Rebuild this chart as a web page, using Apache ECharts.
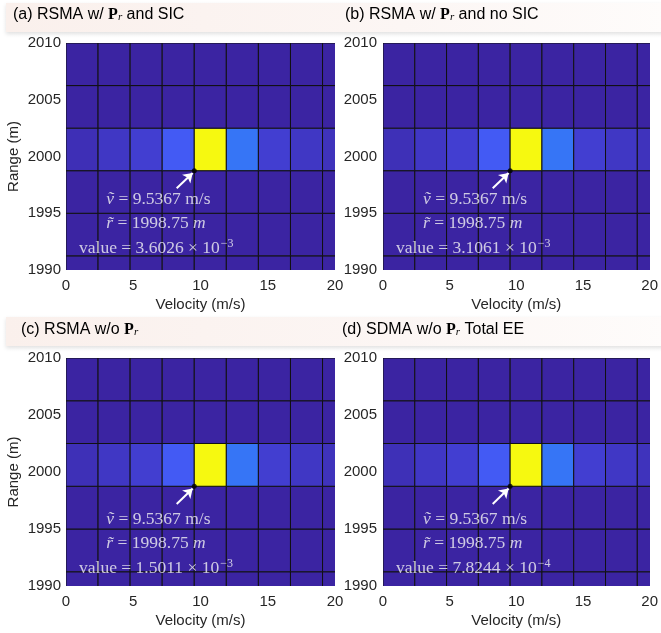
<!DOCTYPE html>
<html>
<head>
<meta charset="utf-8">
<script src="https://cdn.jsdelivr.net/npm/echarts@6/dist/echarts.min.js"></script>
<style>html,body{margin:0;padding:0;background:#fff}#c{width:661px;height:633px}</style>
</head>
<body>
<div id="c"></div>
<script>
// ---- data ----
const velocityEdges = [0, 2.3842, 4.7684, 7.1526, 9.5367, 11.9209, 14.3051, 16.6893, 19.0735, 21.4577];
const rangeEdges = [1987.5, 1991.25, 1995, 1998.75, 2002.5, 2006.25, 2010];
const peakRowIndex = 3; // row 1998.75 - 2002.5
const backgroundValue = 0;
const rowValuesA = [0.090e-3, 0.150e-3, 0.205e-3, 0.414e-3, 3.6026e-3, 0.598e-3, 0.205e-3, 0.150e-3, 0.115e-3];
const rowValuesB = [0.078e-3, 0.129e-3, 0.177e-3, 0.357e-3, 3.1061e-3, 0.516e-3, 0.177e-3, 0.129e-3, 0.099e-3];
const rowValuesC = [0.038e-3, 0.062e-3, 0.085e-3, 0.173e-3, 1.5011e-3, 0.249e-3, 0.085e-3, 0.062e-3, 0.048e-3];
const rowValuesD = [0.020e-3, 0.033e-3, 0.045e-3, 0.090e-3, 0.78244e-3, 0.130e-3, 0.045e-3, 0.033e-3, 0.025e-3];
const peakValues = [3.6026e-3, 3.1061e-3, 1.5011e-3, 7.8244e-4];
const valueMantissas = ['3.6026', '3.1061', '1.5011', '7.8244'];
const valueExponents = ['\u22123', '\u22123', '\u22123', '\u22124'];
const peakVelocity = 9.5367;
const peakRange = 1998.75;
const titleLetters = ['(a) RSMA w/ ', '(b) RSMA w/ ', '(c) RSMA w/o ', '(d) SDMA w/o '];
const titleTails = [' and SIC', ' and no SIC', '', ' Total EE'];
const xMin = 0, xMax = 20, xInterval = 5;
const yMin = 1990, yMax = 2010, yInterval = 5;
const xAxisName = 'Velocity (m/s)';
const yAxisName = 'Range (m)';
const rowValues = [rowValuesA, rowValuesB, rowValuesC, rowValuesD];

// ---- layout ----
const grids = [
  {left: 66, top: 43, width: 269, height: 227},
  {left: 383, top: 43, width: 269, height: 227},
  {left: 66, top: 358, width: 269, height: 228},
  {left: 383, top: 358, width: 269, height: 228}
];
const parula = ['#3b24a2', '#4752f4', '#2d87f7', '#11b1d6', '#05c3af', '#37c897', '#81cc59', '#d1bb33', '#fbbc40', '#f9e527', '#f6f910'];
const sans = '"Liberation Sans", Arial, Helvetica, sans-serif';
const serif = '"Liberation Serif", "DejaVu Serif", serif';
const textY = [[1996.2, 1994.1, 1991.9], [1996.2, 1994.1, 1991.9], [1995.85, 1993.75, 1991.55], [1995.85, 1993.75, 1991.55]];
const textX = [3.0, 3.0, 0.97];
const arrowTail = [8.23, 1997.2];
const arrowHead = [9.42, 1998.55];

const chart = echarts.init(document.getElementById('c'), null, {renderer: 'canvas'});

const xAxes = [], yAxes = [], series = [], visualMaps = [], graphics = [];

grids.forEach((g, i) => {
  xAxes.push({
    type: 'value', gridIndex: i, min: xMin, max: xMax, interval: xInterval,
    axisLine: {show: false}, axisTick: {show: false}, splitLine: {show: false},
    axisLabel: {fontSize: 15, color: '#262626', fontFamily: sans, margin: 8, formatter: v => String(v)},
    name: xAxisName, nameLocation: 'middle', nameGap: 27,
    nameTextStyle: {fontSize: 15, color: '#262626', fontFamily: sans}
  });
  yAxes.push({
    type: 'value', gridIndex: i, min: yMin, max: yMax, interval: yInterval,
    axisLine: {show: false}, axisTick: {show: false}, splitLine: {show: false},
    axisLabel: {fontSize: 15, color: '#262626', fontFamily: sans, margin: i % 2 === 0 ? 5 : 6, formatter: v => String(v)},
    name: i % 2 === 0 ? yAxisName : '', nameLocation: 'middle', nameGap: 45,
    nameTextStyle: {fontSize: 15, color: '#262626', fontFamily: sans}
  });

  const data = [];
  for (let r = 0; r < rangeEdges.length - 1; r++) {
    for (let c = 0; c < velocityEdges.length - 1; c++) {
      const v = r === peakRowIndex ? rowValues[i][c] : backgroundValue;
      data.push([velocityEdges[c], velocityEdges[c + 1], rangeEdges[r], rangeEdges[r + 1], v]);
    }
  }
  const baseIndex = series.length;
  series.push({
    type: 'custom', xAxisIndex: i, yAxisIndex: i, clip: true,
    encode: {x: [0, 1], y: [2, 3]},
    data: data,
    renderItem: function (params, api) {
      const p0 = api.coord([api.value(0), api.value(3)]);
      const p1 = api.coord([api.value(1), api.value(2)]);
      return {
        type: 'rect',
        shape: {x: p0[0], y: p0[1], width: p1[0] - p0[0], height: p1[1] - p0[1]},
        style: {fill: api.visual('color'), stroke: '#111', lineWidth: 1}
      };
    },
    silent: true, animation: false
  });
  visualMaps.push({
    type: 'continuous', show: false, seriesIndex: baseIndex, dimension: 4,
    min: 0, max: peakValues[i], inRange: {color: parula}
  });
  // arrow
  series.push({
    type: 'lines', coordinateSystem: 'cartesian2d', xAxisIndex: i, yAxisIndex: i,
    data: [{coords: [arrowTail, arrowHead]}],
    symbol: ['none', 'arrow'], symbolSize: 9,
    lineStyle: {color: '#ffffff', width: 2, opacity: 1},
    silent: true, animation: false, z: 5
  });
  // peak dot
  series.push({
    type: 'scatter', xAxisIndex: i, yAxisIndex: i,
    data: [[peakVelocity, peakRange]], symbolSize: 5,
    itemStyle: {color: '#000'}, silent: true, animation: false, z: 6
  });
  // annotation texts
  const lines = [
    '{it|v\u0303}{rm| = ' + peakVelocity.toFixed(4) + ' m/s}',
    '{it|r\u0303}{rm| = ' + peakRange.toFixed(2) + ' }{it|m}',
    '{rm|value = ' + valueMantissas[i] + ' \u00d7 10}{sup|' + valueExponents[i] + '}'
  ];
  series.push({
    type: 'scatter', xAxisIndex: i, yAxisIndex: i,
    data: textX.map((x, k) => [x, textY[i][k]]), symbolSize: 0,
    label: {
      show: true, position: 'right', distance: 0,
      formatter: p => lines[p.dataIndex],
      rich: {
        it: {fontFamily: serif, fontStyle: 'italic', fontSize: 17.5, color: '#f4f4f4'},
        rm: {fontFamily: serif, fontSize: 17.5, color: '#f4f4f4'},
        sup: {fontFamily: serif, fontSize: 12, color: '#f4f4f4', verticalAlign: 'top', padding: [0, 0, 9, 1]}
      }
    },
    silent: true, animation: false, z: 7
  });
});

// title bands
const bandTop = [3, 317];
bandTop.forEach(t => {
  graphics.push({
    type: 'rect', left: 6, top: t, z: -1,
    shape: {width: 660, height: 29},
    style: {
      fill: new echarts.graphic.LinearGradient(0, 0, 1, 0, [
        {offset: 0, color: '#faf0ec'}, {offset: 0.6, color: '#fcf6f4'}, {offset: 1, color: '#fefcfb'}
      ]),
      shadowBlur: 4, shadowColor: 'rgba(0,0,0,0.12)', shadowOffsetY: 2
    }
  });
});
const titlePos = [[13, 17], [345, 17], [21, 332], [342, 332]];
titlePos.forEach((p, i) => {
  graphics.push({
    type: 'text', left: p[0], top: p[1] - 10, z: 10,
    style: {
      text: '{s|' + titleLetters[i] + '}{p|P}{r|r}' + (titleTails[i] ? '{s|' + titleTails[i] + '}' : ''),
      rich: {
        s: {fontFamily: sans, fontSize: 16, color: '#222'},
        p: {fontFamily: serif, fontWeight: 'bold', fontSize: 16, color: '#222'},
        r: {fontFamily: serif, fontStyle: 'italic', fontSize: 11, color: '#222', padding: [5, 0, 0, 0]}
      }
    }
  });
});

chart.setOption({
  backgroundColor: '#ffffff',
  animation: false,
  grid: grids,
  xAxis: xAxes,
  yAxis: yAxes,
  visualMap: visualMaps,
  series: series,
  graphic: graphics
});
</script>
</body>
</html>
